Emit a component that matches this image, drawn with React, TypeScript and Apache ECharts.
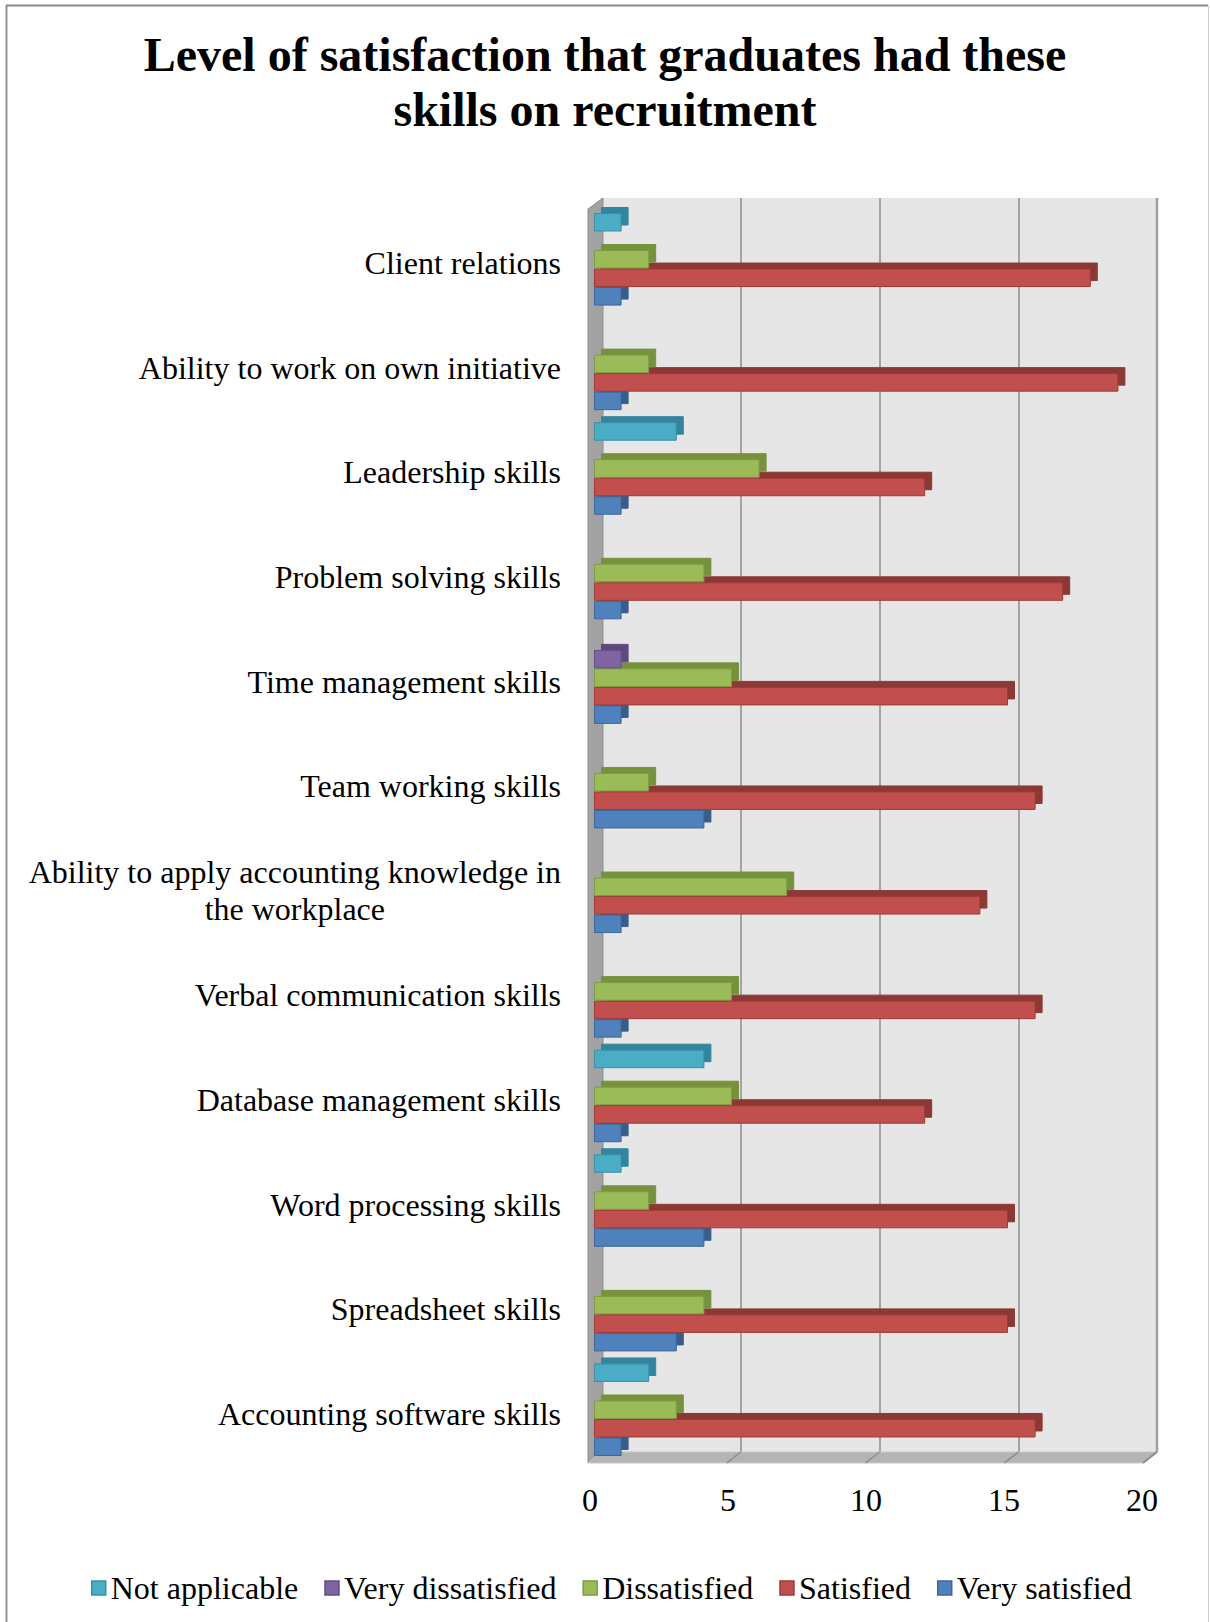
import React, { useEffect, useRef } from "react";
import * as echarts from "echarts";

// ---- data ----
const categories = [
  "Client relations",
  "Ability to work on own initiative",
  "Leadership skills",
  "Problem solving skills",
  "Time management skills",
  "Team working skills",
  "Ability to apply accounting knowledge in\nthe workplace",
  "Verbal communication skills",
  "Database management skills",
  "Word processing skills",
  "Spreadsheet skills",
  "Accounting software skills",
];
const seriesNames = [
  "Not applicable",
  "Very dissatisfied",
  "Dissatisfied",
  "Satisfied",
  "Very satisfied",
];
const notApplicable = [1, 0, 3, 0, 0, 0, 0, 0, 4, 1, 0, 2];
const veryDissatisfied = [0, 0, 0, 0, 1, 0, 0, 0, 0, 0, 0, 0];
const dissatisfied = [2, 2, 6, 4, 5, 2, 7, 5, 5, 2, 4, 3];
const satisfied = [18, 19, 12, 17, 15, 16, 14, 16, 12, 15, 15, 16];
const verySatisfied = [1, 1, 1, 1, 1, 4, 1, 1, 1, 4, 3, 1];
const xMin = 0;
const xMax = 20;
const xInterval = 5;

const titleText = "Level of satisfaction that graduates had these\nskills on recruitment";

// ---- styles ----
const FONT = "'Liberation Serif', 'Times New Roman', serif";
const faceColors = ["#4BACC6", "#8064A2", "#9BBB59", "#C0504D", "#4F81BD"];
const borderColors = ["#3A8FA6", "#654E85", "#7E9C44", "#9E3B38", "#3C679C"];
const depthColors = ["#31859C", "#5F4A7B", "#76923C", "#8C3836", "#385D8A"];

// layout
const BAR_GRID = { left: 594, top: 207, width: 552, height: 1255 };
const WALL = { left: 602, top: 198, width: 555, height: 1254 };
const DEPTH_X = 14;
const DEPTH_Y = 11;

export default function App() {
  const ref = useRef<HTMLDivElement>(null);

  useEffect(() => {
    if (!ref.current) return;
    const chart = echarts.init(ref.current, undefined, { renderer: "svg" });
    const values = [notApplicable, veryDissatisfied, dissatisfied, satisfied, verySatisfied];

    const wallL = WALL.left;
    const wallR = WALL.left + WALL.width;
    const wallT = WALL.top;
    const wallB = WALL.top + WALL.height;

    const floorTicks: any[] = [];
    for (let v = xMin + xInterval; v < xMax; v += xInterval) {
      const x = wallL + ((v - xMin) / (xMax - xMin)) * WALL.width;
      floorTicks.push({
        type: "line",
        z: 2,
        silent: true,
        shape: { x1: x, y1: wallB, x2: x - DEPTH_X, y2: wallB + DEPTH_Y },
        style: { stroke: "#8c8c8c", lineWidth: 1.5 },
      });
    }

    const option: any = {
      animation: false,
      backgroundColor: "#ffffff",
      title: {
        text: titleText,
        left: "center",
        top: 27,
        padding: [0, 0, 0, 8],
        textStyle: {
          fontFamily: FONT,
          fontWeight: "bold",
          fontSize: 48,
          lineHeight: 55,
          color: "#000",
        },
      },
      legend: {
        data: seriesNames,
        left: 91,
        top: 1572,
        padding: 0,
        icon: "rect",
        itemWidth: 14,
        itemHeight: 14,
        itemGap: 26,
        textStyle: { fontFamily: FONT, fontSize: 32, color: "#000" },
        itemStyle: {
          borderWidth: 1.5,
          shadowBlur: 0,
          shadowOffsetX: 0,
          shadowOffsetY: 0,
          shadowColor: "rgba(0,0,0,0)",
        },
      },
      grid: [
        { ...BAR_GRID },
        { ...WALL, show: true, backgroundColor: "#e6e6e6", borderWidth: 0 },
      ],
      xAxis: [
        {
          gridIndex: 0,
          type: "value",
          min: xMin,
          max: xMax,
          interval: xInterval,
          axisLine: { show: false },
          axisTick: { show: false },
          splitLine: { show: false },
          axisLabel: {
            fontFamily: FONT,
            fontSize: 32,
            color: "#000",
            margin: 22,
            padding: [0, 8, 0, 0],
          },
        },
        {
          gridIndex: 1,
          type: "value",
          min: xMin,
          max: xMax,
          interval: xInterval,
          axisLine: { show: false },
          axisTick: { show: false },
          axisLabel: { show: false },
          splitLine: { show: true, lineStyle: { color: "#8c8c8c", width: 1.5 } },
        },
      ],
      yAxis: [
        {
          gridIndex: 0,
          type: "category",
          data: categories,
          inverse: true,
          axisLine: { show: false },
          axisTick: { show: false },
          splitLine: { show: false },
          axisLabel: {
            margin: 33,
            color: "#000",
            fontFamily: FONT,
            fontSize: 32,
            lineHeight: 37,
            padding: [8, 0, 0, 0],
            formatter: (v: string) =>
              v
                .split("\n")
                .map((l) => `{c|${l}}`)
                .join("\n"),
            rich: {
              c: { align: "center", fontFamily: FONT, fontSize: 32, lineHeight: 37, color: "#000" },
            },
          },
        },
        {
          gridIndex: 1,
          type: "category",
          data: categories,
          inverse: true,
          show: false,
        },
      ],
      graphic: [
        // left side wall
        {
          type: "polygon",
          z: 1,
          silent: true,
          shape: {
            points: [
              [wallL - DEPTH_X, wallT + DEPTH_Y],
              [wallL + 1, wallT],
              [wallL + 1, wallB],
              [wallL - DEPTH_X, wallB + DEPTH_Y],
            ],
          },
          style: { fill: "#a2a2a2", stroke: "#8f8f8f", lineWidth: 1 },
        },
        // floor
        {
          type: "polygon",
          z: 1,
          silent: true,
          shape: {
            points: [
              [wallL, wallB],
              [wallR, wallB],
              [wallR - DEPTH_X, wallB + DEPTH_Y],
              [wallL - DEPTH_X, wallB + DEPTH_Y],
            ],
          },
          style: { fill: "#b4b4b4", stroke: "#c8c8c8", lineWidth: 1 },
        },
        ...floorTicks,
        {
          type: "line",
          z: 2,
          silent: true,
          shape: { x1: wallR, y1: wallT, x2: wallR, y2: wallB },
          style: { stroke: "#a0a0a0", lineWidth: 2.5 },
        },
        {
          type: "line",
          z: 2,
          silent: true,
          shape: { x1: wallR, y1: wallB, x2: wallR - DEPTH_X, y2: wallB + DEPTH_Y },
          style: { stroke: "#8c8c8c", lineWidth: 2 },
        },
        // outer frame
        {
          type: "polyline",
          z: 2,
          silent: true,
          shape: { points: [[6.5, 1640], [6.5, 5.5], [1208, 5.5]] },
          style: { stroke: "#8a8a8a", lineWidth: 1.8, fill: "none" },
        },
        {
          type: "line",
          z: 2,
          silent: true,
          shape: { x1: 1208.5, y1: 5, x2: 1208.5, y2: 1640 },
          style: { stroke: "#cfcfcf", lineWidth: 1 },
        },
      ],
      series: seriesNames.map((name, i) => ({
        type: "bar",
        name,
        xAxisIndex: 0,
        yAxisIndex: 0,
        barGap: "0%",
        barCategoryGap: "11.5%",
        z: 10 - i,
        silent: true,
        itemStyle: {
          color: faceColors[i],
          borderColor: borderColors[i],
          borderWidth: 1,
          shadowBlur: 0,
          shadowOffsetX: 7,
          shadowOffsetY: -6,
          shadowColor: depthColors[i],
        },
        data: values[i].map((v) =>
          v === 0
            ? {
                value: v,
                itemStyle: {
                  borderWidth: 0,
                  shadowOffsetX: 0,
                  shadowOffsetY: 0,
                  shadowColor: "rgba(0,0,0,0)",
                },
              }
            : v
        ),
      })),
    };

    chart.setOption(option);
    return () => chart.dispose();
  }, []);

  return (
    <div
      ref={ref}
      style={{ position: "absolute", left: 0, top: 0, width: 1210, height: 1622 }}
    />
  );
}
